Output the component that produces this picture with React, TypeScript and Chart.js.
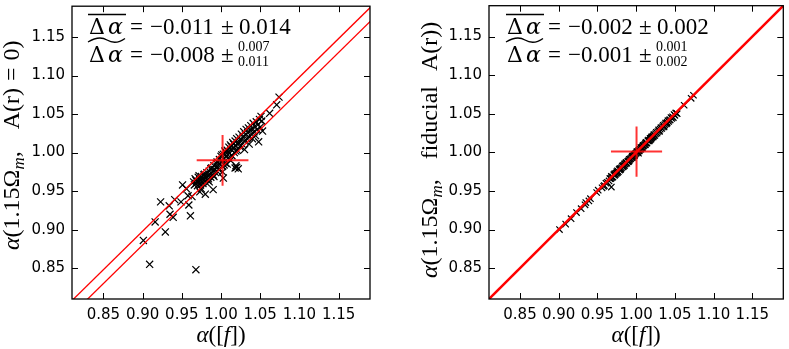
import React, { useEffect, useRef } from "react";
import { Chart, registerables } from "chart.js";
Chart.register(...registerables);

const axisMin = 0.81;
const axisMax = 1.19;
const tickValues = [0.85, 0.9, 0.95, 1.0, 1.05, 1.1, 1.15];

const alphaF = [
  0.901, 0.909, 0.916, 0.923, 0.929, 0.934, 0.935, 0.939, 0.941, 0.949,
  0.951, 0.956, 0.958, 0.959, 0.961, 0.963, 0.965, 0.966, 0.967, 0.968,
  0.968, 0.968, 0.969, 0.970, 0.971, 0.972, 0.972, 0.973, 0.973, 0.974,
  0.975, 0.975, 0.976, 0.976, 0.977, 0.978, 0.979, 0.979, 0.980, 0.980,
  0.981, 0.982, 0.983, 0.983, 0.984, 0.985, 0.985, 0.986, 0.987, 0.987,
  0.988, 0.989, 0.990, 0.990, 0.991, 0.991, 0.992, 0.993, 0.994, 0.995,
  0.995, 0.995, 0.996, 0.997, 0.998, 0.998, 0.999, 1.000, 1.001, 1.001,
  1.002, 1.002, 1.003, 1.003, 1.004, 1.004, 1.005, 1.006, 1.006, 1.007,
  1.008, 1.008, 1.009, 1.009, 1.010, 1.011, 1.012, 1.012, 1.013, 1.013,
  1.014, 1.015, 1.016, 1.016, 1.017, 1.018, 1.018, 1.019, 1.019, 1.019,
  1.020, 1.020, 1.021, 1.022, 1.022, 1.023, 1.023, 1.024, 1.025, 1.026,
  1.027, 1.028, 1.029, 1.030, 1.030, 1.031, 1.032, 1.033, 1.034, 1.035,
  1.036, 1.036, 1.037, 1.038, 1.039, 1.040, 1.040, 1.041, 1.042, 1.043,
  1.044, 1.045, 1.046, 1.047, 1.048, 1.049, 1.050, 1.051, 1.052, 1.053,
  1.062, 1.071, 1.074,
];

const alphaNoA = [
  0.886, 0.855, 0.910, 0.936, 0.897, 0.931, 0.920, 0.916, 0.939, 0.936,
  0.958, 0.953, 0.944, 0.932, 0.918, 0.943, 0.962, 0.958, 0.966, 0.848,
  0.960, 0.964, 0.963, 0.957, 0.968, 0.962, 0.970, 0.965, 0.949, 0.958,
  0.969, 0.953, 0.966, 0.962, 0.960, 0.971, 0.965, 0.972, 0.968, 0.946,
  0.961, 0.974, 0.970, 0.964, 0.966, 0.976, 0.962, 0.972, 0.968, 0.979,
  0.980, 0.975, 0.971, 0.952, 0.983, 0.969, 0.978, 0.974, 0.986, 0.982,
  0.976, 0.988, 0.987, 0.978, 0.991, 0.979, 0.985, 0.995, 0.989, 0.997,
  0.982, 0.975, 0.998, 0.967, 0.992, 0.984, 1.002, 0.986, 1.000, 0.996,
  1.003, 0.985, 0.993, 1.001, 1.007, 0.999, 1.010, 0.990, 1.004, 1.008,
  0.996, 1.013, 1.006, 1.011, 1.000, 1.015, 0.980, 1.009, 1.002, 0.983,
  1.018, 0.981, 1.003, 1.013, 0.979, 1.020, 1.012, 1.008, 1.016, 1.024,
  1.011, 1.020, 1.027, 1.015, 1.004, 1.023, 1.030, 1.018, 1.026, 1.032,
  1.020, 1.011, 1.029, 1.035, 1.024, 1.031, 1.018, 1.038, 1.027, 1.034,
  1.022, 1.040, 1.030, 1.036, 1.014, 1.043, 1.033, 1.047, 1.041, 1.028,
  1.051, 1.062, 1.072,
];

const alphaFid = [
  0.900, 0.907, 0.914, 0.922, 0.927, 0.932, 0.935, 0.937, 0.940, 0.948,
  0.951, 0.954, 0.956, 0.957, 0.960, 0.961, 0.963, 0.966, 0.966, 0.955,
  0.967, 0.969, 0.968, 0.968, 0.971, 0.970, 0.972, 0.972, 0.971, 0.973,
  0.975, 0.973, 0.974, 0.976, 0.975, 0.978, 0.977, 0.979, 0.979, 0.978,
  0.980, 0.982, 0.981, 0.983, 0.982, 0.985, 0.983, 0.985, 0.986, 0.987,
  0.986, 0.988, 0.989, 0.988, 0.991, 0.989, 0.991, 0.992, 0.993, 0.994,
  0.993, 0.995, 0.995, 0.996, 0.997, 0.996, 0.998, 0.999, 1.000, 1.001,
  1.000, 1.001, 1.002, 0.999, 1.003, 1.002, 1.004, 1.004, 1.006, 1.006,
  1.007, 1.006, 1.008, 1.009, 1.009, 1.010, 1.012, 1.010, 1.012, 1.013,
  1.012, 1.015, 1.015, 1.016, 1.015, 1.018, 1.016, 1.018, 1.017, 1.018,
  1.020, 1.019, 1.020, 1.021, 1.020, 1.023, 1.022, 1.022, 1.024, 1.026,
  1.025, 1.027, 1.029, 1.028, 1.027, 1.030, 1.032, 1.031, 1.033, 1.035,
  1.034, 1.033, 1.036, 1.038, 1.037, 1.039, 1.038, 1.041, 1.040, 1.042,
  1.042, 1.045, 1.044, 1.046, 1.045, 1.049, 1.048, 1.051, 1.051, 1.050,
  1.061, 1.070, 1.074,
];

const crossNoA = [1.002, 0.99];
const crossNoAErr = [0.033, 0.033];
const crossFid = [1.0005, 1.001];
const crossFidErr = [0.033, 0.0325];

const diagNoA = [-0.002, -0.02];
const diagFid = [0];

const statsNoA = ["\u22120.011", "0.014", "\u22120.008", "0.007", "0.011"];
const statsFid = ["\u22120.002", "0.002", "\u22120.001", "0.001", "0.002"];

const SERIF = "'Liberation Serif', 'Times New Roman', serif";
const DSERIF = "'DejaVu Serif', serif";
const fnt = (size: number, italic = false) =>
  `${italic ? "italic " : ""}${size}px ${SERIF}`;

type Seg = { t: string; f: string; dy?: number; gap?: number };

function runWidth(ctx: CanvasRenderingContext2D, segs: Seg[]) {
  let w = 0;
  for (const s of segs) {
    ctx.font = s.f;
    w += (s.gap || 0) + ctx.measureText(s.t).width;
  }
  return w;
}
function drawRun(ctx: CanvasRenderingContext2D, segs: Seg[], x: number, y: number) {
  let cx = x;
  for (const s of segs) {
    ctx.font = s.f;
    cx += s.gap || 0;
    ctx.fillText(s.t, cx, y + (s.dy || 0));
    cx += ctx.measureText(s.t).width;
  }
}

type PanelCfg = {
  ys: number[];
  cross: number[];
  crossErr: number[];
  diag: number[];
  diagWidth: number;
  stats: string[];
  yTitle: Seg[];
  yAxisWidth: number;
  padRight: number;
  textOffset: number;
  yTitleX: number;
  yTitleStart: number;
  markerR: number;
};

function makePlugin(cfg: PanelCfg) {
  return {
    id: "decor",
    afterDraw(chart: any) {
      const ctx: CanvasRenderingContext2D = chart.ctx;
      const a = chart.chartArea;
      const xs = chart.scales.x;
      const ys = chart.scales.y;
      ctx.save();
      ctx.strokeStyle = "#000";
      ctx.fillStyle = "#000";
      // inward ticks on all four sides
      ctx.lineWidth = 1;
      const tl = 6;
      ctx.beginPath();
      for (const v of tickValues) {
        const px = Math.round(xs.getPixelForValue(v)) + 0.5;
        ctx.moveTo(px, a.bottom);
        ctx.lineTo(px, a.bottom - tl);
        ctx.moveTo(px, a.top);
        ctx.lineTo(px, a.top + tl);
        const py = Math.round(ys.getPixelForValue(v)) + 0.5;
        ctx.moveTo(a.left, py);
        ctx.lineTo(a.left + tl, py);
        ctx.moveTo(a.right, py);
        ctx.lineTo(a.right - tl, py);
      }
      ctx.stroke();
      // frame
      ctx.lineWidth = 1.3;
      ctx.strokeRect(a.left, a.top, a.right - a.left, a.bottom - a.top);

      // annotation
      const x0 = a.left + cfg.textOffset;
      const y1 = 34;
      const y2 = 62;
      ctx.textBaseline = "alphabetic";
      ctx.textAlign = "left";
      const big = fnt(23);
      const bigI = fnt(23, true);
      const small = fnt(14);
      for (const [yy, v] of [
        [y1, cfg.stats[0]],
        [y2, cfg.stats[2]],
      ] as [number, string][]) {
        ctx.font = `22px ${DSERIF}`;
        ctx.fillText("\u0394", x0, yy);
        ctx.font = `italic 22px ${DSERIF}`;
        ctx.fillText("\u03b1", x0 + 19, yy);
        ctx.font = big;
        ctx.fillText("=", x0 + 41, yy);
        ctx.fillText(v, x0 + 61, yy);
        ctx.fillText("\u00b1", x0 + 132, yy);
      }
      ctx.font = big;
      ctx.fillText(cfg.stats[1], x0 + 150, y1);
      ctx.font = small;
      ctx.fillText(cfg.stats[3], x0 + 149, y2 - 11);
      ctx.fillText(cfg.stats[4], x0 + 149, y2 + 4);
      // overline
      ctx.lineWidth = 1.5;
      ctx.beginPath();
      ctx.moveTo(x0 - 1, 14.5);
      ctx.lineTo(x0 + 37, 14.5);
      ctx.stroke();
      // wide tilde
      ctx.lineWidth = 1.3;
      ctx.beginPath();
      ctx.moveTo(x0 - 1, 42);
      ctx.bezierCurveTo(x0 + 8, 36.5, x0 + 14, 37.5, x0 + 18, 40);
      ctx.bezierCurveTo(x0 + 23, 43, x0 + 29, 43.5, x0 + 36, 38.5);
      ctx.stroke();

      // x title
      const xt: Seg[] = [
        { t: "\u03b1", f: bigI },
        { t: "([", f: big },
        { t: "f", f: bigI },
        { t: "])", f: big },
      ];
      const xw = runWidth(ctx, xt);
      drawRun(ctx, xt, (a.left + a.right) / 2 - xw / 2, 342);

      // y title (rotated, reading upwards from its start)
      ctx.save();
      ctx.translate(cfg.yTitleX, cfg.yTitleStart);
      ctx.rotate(-Math.PI / 2);
      drawRun(ctx, cfg.yTitle, 0, 0);
      ctx.restore();
      ctx.restore();
    },
  };
}

function buildConfig(cfg: PanelCfg): any {
  const pts = alphaF.map((x, i) => ({ x, y: cfg.ys[i] }));
  const diagSets = cfg.diag.map((off) => ({
    type: "line",
    data: [
      { x: axisMin - 0.05, y: axisMin - 0.05 + off },
      { x: axisMax + 0.05, y: axisMax + 0.05 + off },
    ],
    borderColor: "#ff0000",
    borderWidth: cfg.diagWidth,
    pointRadius: 0,
    showLine: true,
    order: 1,
  }));
  const [cx, cy] = cfg.cross;
  const [ex, ey] = cfg.crossErr;
  const crossSets = [
    {
      type: "line",
      data: [
        { x: cx - ex, y: cy },
        { x: cx + ex, y: cy },
      ],
    },
    {
      type: "line",
      data: [
        { x: cx, y: cy - ey },
        { x: cx, y: cy + ey },
      ],
    },
  ].map((d) => ({
    ...d,
    borderColor: "rgba(255,0,0,0.8)",
    borderWidth: 2,
    pointRadius: 0,
    showLine: true,
    order: 0,
  }));
  const tickFont = { family: "'DejaVu Sans', sans-serif", size: 15 };
  const axis = (isY: boolean) => ({
    type: "linear",
    min: axisMin,
    max: axisMax,
    afterBuildTicks: (s: any) => {
      s.ticks = tickValues.map((v) => ({ value: v }));
    },
    afterFit: (s: any) => {
      if (isY) {
        s.width = cfg.yAxisWidth;
        s.paddingTop = 0;
        s.paddingBottom = 0;
      } else {
        s.height = 50;
        s.paddingLeft = 0;
        s.paddingRight = 0;
      }
    },
    ticks: {
      callback: (v: any) => Number(v).toFixed(2),
      color: "#000",
      font: tickFont,
      padding: 7,
      autoSkip: false,
      maxRotation: 0,
    },
    grid: { display: false, drawTicks: false },
    border: { display: false },
  });
  return {
    type: "scatter",
    data: {
      datasets: [
        ...crossSets,
        ...diagSets,
        {
          data: pts,
          pointStyle: "crossRot",
          pointRadius: cfg.markerR,
          borderColor: "#000",
          backgroundColor: "#000",
          borderWidth: 1.2,
          showLine: false,
          order: 2,
        },
      ],
    },
    options: {
      responsive: false,
      animation: false,
      devicePixelRatio: 1,
      layout: { padding: { left: 0, top: 1, right: cfg.padRight, bottom: 0 } },
      plugins: { legend: { display: false }, tooltip: { enabled: false } },
      scales: { x: axis(false), y: axis(true) },
    },
    plugins: [makePlugin(cfg)],
  };
}

function Panel({ left, width, cfg }: { left: number; width: number; cfg: PanelCfg }) {
  const ref = useRef<HTMLCanvasElement>(null);
  useEffect(() => {
    if (!ref.current) return;
    const chart = new Chart(ref.current, buildConfig(cfg));
    return () => chart.destroy();
  }, []);
  return (
    <div style={{ position: "absolute", left, top: 0, width, height: 349 }}>
      <canvas ref={ref} width={width} height={349} style={{ display: "block" }} />
    </div>
  );
}

const it24 = fnt(24, true);
const rm24 = fnt(24);
const it17 = fnt(17, true);

const leftCfg: PanelCfg = {
  ys: alphaNoA,
  cross: crossNoA,
  crossErr: crossNoAErr,
  diag: diagNoA,
  diagWidth: 1.3,
  stats: statsNoA,
  yTitle: [
    { t: "\u03b1", f: it24 },
    { t: "(1.15\u03a9", f: rm24 },
    { t: "m", f: it17, dy: 5 },
    { t: ",", f: rm24 },
    { t: "A(r)", f: rm24, gap: 22 },
    { t: "=", f: rm24, gap: 7 },
    { t: "0)", f: rm24, gap: 7 },
  ],
  yAxisWidth: 72,
  padRight: 30,
  textOffset: 17,
  yTitleX: 19,
  yTitleStart: 250,
  markerR: 5,
};

const rightCfg: PanelCfg = {
  ys: alphaFid,
  cross: crossFid,
  crossErr: crossFidErr,
  diag: diagFid,
  diagWidth: 2.5,
  stats: statsFid,
  yTitle: [
    { t: "\u03b1", f: it24 },
    { t: "(1.15\u03a9", f: rm24 },
    { t: "m", f: it17, dy: 5 },
    { t: ",", f: rm24 },
    { t: "fiducial", f: rm24, gap: 20 },
    { t: "A(r))", f: rm24, gap: 15 },
  ],
  yAxisWidth: 89,
  padRight: 2,
  textOffset: 18,
  yTitleX: 37,
  yTitleStart: 278,
  markerR: 4.5,
};

export default function App() {
  return (
    <div style={{ position: "absolute", left: 0, top: 0, width: 789, height: 349, background: "#fff" }}>
      <Panel left={0} width={400} cfg={leftCfg} />
      <Panel left={400} width={389} cfg={rightCfg} />
    </div>
  );
}
